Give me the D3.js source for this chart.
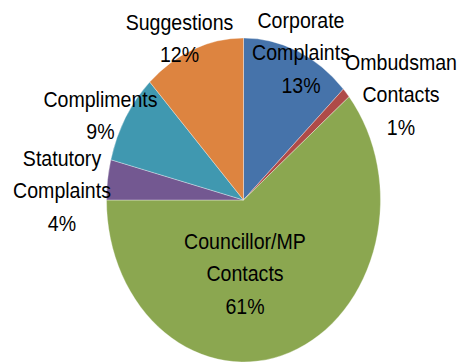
<!DOCTYPE html>
<html>
<head>
<meta charset="utf-8">
<script src="https://cdn.jsdelivr.net/npm/d3@7"></script>
<style>
  html, body { margin: 0; padding: 0; background: #fff; }
  svg { display: block; }
</style>
</head>
<body>
<svg id="chart" width="461" height="363"></svg>
<script>
// Contact categories, clockwise from 12 o'clock
const categories = [
  "Corporate Complaints",
  "Ombudsman Contacts",
  "Councillor/MP Contacts",
  "Statutory Complaints",
  "Compliments",
  "Suggestions"
];
// Share of all contacts, in percent
const values = [13, 1, 61, 4, 9, 12];
// How each category name is broken over lines
const nameLines = [
  ["Corporate", "Complaints"],
  ["Ombudsman", "Contacts"],
  ["Councillor/MP", "Contacts"],
  ["Statutory", "Complaints"],
  ["Compliments"],
  ["Suggestions"]
];

// Styling and layout
const colors = ["#4673AA", "#AF4B48", "#8BA750", "#735891", "#4098B0", "#DD8440"];
const labelAnchors = [   // centre x, first baseline
  [301, 28], [401, 70], [245, 249], [62, 166], [100.5, 107], [179.5, 30]
];
const W = 461, H = 363;
const cx = 243.5, cy = 200, rx = 137, ry = 162;
const lineGap = 32.5;
const fontSize = 22, textSqueeze = 0.89;

const svg = d3.select("#chart");

const pie = d3.pie().sort(null).value(d => d)(values);
const arc = d3.arc().innerRadius(0).outerRadius(ry);

// The pie is drawn as a circle and squeezed horizontally into an ellipse
const g = svg.append("g")
  .attr("transform", `translate(${cx},${cy}) scale(${rx / ry},1)`);

g.selectAll("path")
  .data(pie)
  .join("path")
  .attr("d", arc)
  .attr("fill", (d, i) => colors[i])
  .attr("stroke", "#ffffff")
  .attr("stroke-width", 0.6)
  .attr("stroke-opacity", 0.6);

// Data labels: category name plus percentage
const labels = svg.append("g")
  .selectAll("g")
  .data(categories)
  .join("g")
  .attr("transform", (d, i) => `translate(${labelAnchors[i][0]},${labelAnchors[i][1]}) scale(${textSqueeze},1)`);

labels.each(function(d, i) {
  const lines = nameLines[i].concat([values[i] + "%"]);
  d3.select(this).selectAll("text")
    .data(lines)
    .join("text")
    .attr("x", 0)
    .attr("y", (t, j) => j * lineGap)
    .attr("text-anchor", "middle")
    .attr("font-family", "'Liberation Sans', Arial, sans-serif")
    .attr("font-size", fontSize)
    .attr("fill", "#000")
    .text(t => t);
});
</script>
</body>
</html>
